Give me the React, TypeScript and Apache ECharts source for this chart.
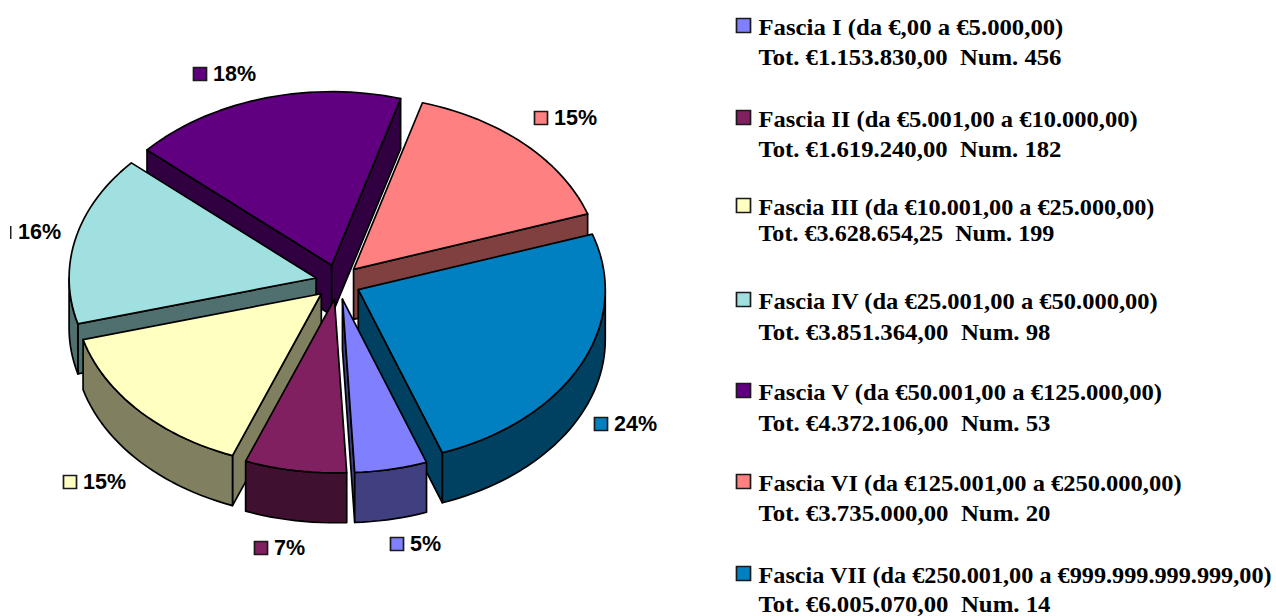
import React, { useEffect, useRef } from "react";
import * as echarts from "echarts";

const categories = ["Fascia I", "Fascia II", "Fascia III", "Fascia IV", "Fascia V", "Fascia VI", "Fascia VII"];
const totals = [1153830, 1619240, 3628654.25, 3851364, 4372106, 3735000, 6005070];
const percentLabels = ["5%", "7%", "15%", "16%", "18%", "15%", "24%"];
const legendLine1 = [
  "Fascia I (da €,00 a €5.000,00)",
  "Fascia II (da €5.001,00 a €10.000,00)",
  "Fascia III (da €10.001,00 a €25.000,00)",
  "Fascia IV (da €25.001,00 a €50.000,00)",
  "Fascia V (da €50.001,00 a €125.000,00)",
  "Fascia VI (da €125.001,00 a €250.000,00)",
  "Fascia VII (da €250.001,00 a €999.999.999.999,00)",
];
const legendLine2 = [
  "Tot. €1.153.830,00  Num. 456",
  "Tot. €1.619.240,00  Num. 182",
  "Tot. €3.628.654,25  Num. 199",
  "Tot. €3.851.364,00  Num. 98",
  "Tot. €4.372.106,00  Num. 53",
  "Tot. €3.735.000,00  Num. 20",
  "Tot. €6.005.070,00  Num. 14",
];
const topColors = ["#8080FF", "#802060", "#FFFFC0", "#A0E0E0", "#600080", "#FF8080", "#0080C0"];
const sideColors = ["#404080", "#401030", "#808060", "#507070", "#300040", "#804040", "#004060"];
const paintOrder = [4, 5, 3, 6, 2, 0, 1];

const legendY1 = [27, 119, 207, 301, 392, 483, 575];
const legendY2 = [57, 149, 233, 332, 423, 513, 604];
const legendWidth1 = [305, 379, 396, 400, 404.5, 423.5, 514];
const legendWidth2 = [303, 303, 296, 292, 292, 292, 292];
const legendFont = [24, 24, 22.5, 24, 24, 24, 24];
const labelX = [390, 254, 63, 10, 193, 534, 594];
const labelY = [544, 548, 482, 232, 74, 118, 424];

const CX = 338, CY = 282, A = 247, B = 173.5, DEPTH = 50, EX = 22.5, EY = 17.5;
const START = 160.1;
const sum = totals.reduce((s, v) => s + v, 0);
const rad = (d: number) => (d * Math.PI) / 180;

function renderSlice(_params: any, api: any) {
  const i = api.value(0) as number;
  const value = api.value(1) as number;
  const before = totals.slice(0, i).reduce((s, v) => s + v, 0);
  const a1 = START + (before / sum) * 360;
  const a2 = a1 + (value / sum) * 360;
  const mid = (a1 + a2) / 2;
  const ox = CX + Math.sin(rad(mid)) * EX;
  const oy = CY - Math.cos(rad(mid)) * EY;
  const pt = (deg: number) => [ox + Math.sin(rad(deg)) * A, oy - Math.cos(rad(deg)) * B];
  const sweep = (from: number, to: number) => {
    const pts: number[][] = [];
    const steps = Math.max(1, Math.ceil((to - from) / 2));
    for (let k = 0; k <= steps; k++) pts.push(pt(from + ((to - from) * k) / steps));
    return pts;
  };
  const arc = sweep(a1, a2);
  const down = (p: number[]) => [p[0], p[1] + DEPTH];
  const o = [ox, oy];
  const stroke = { stroke: "#000", lineWidth: 1.7, lineJoin: "round" };
  const wall = (points: number[][]) => ({
    type: "polygon",
    shape: { points },
    style: { fill: sideColors[i], ...stroke },
  });
  const children: any[] = [];
  // a cut face shows only when it looks towards the viewer
  if (Math.sin(rad(a1)) < 0) children.push(wall([o, pt(a1), down(pt(a1)), down(o)]));
  if (Math.sin(rad(a2)) > 0) children.push(wall([o, pt(a2), down(pt(a2)), down(o)]));
  // the rim shows only along the front half of the ellipse, 90 to 270 degrees
  for (const shift of [0, 360]) {
    const from = Math.max(a1, 90 + shift);
    const to = Math.min(a2, 270 + shift);
    if (to > from) {
      const rim = sweep(from, to);
      children.push(wall([...rim, ...rim.slice().reverse().map(down)]));
    }
  }
  children.push({ type: "polygon", shape: { points: [o, ...arc] }, style: { fill: topColors[i], ...stroke } });
  return { type: "group", children };
}

function keyBox(x: number, y: number, size: number, fill: string, lineWidth: number) {
  return { type: "rect", shape: { x, y, width: size, height: size }, style: { fill, stroke: "#1a1a1a", lineWidth } };
}

export default function App() {
  const ref = useRef<HTMLDivElement>(null);
  useEffect(() => {
    const chart = echarts.init(ref.current!, null, { renderer: "svg" });
    const ctx = document.createElement("canvas").getContext("2d")!;
    const elements: any[] = [];
    categories.forEach((_, i) => {
      elements.push(keyBox(736.5, legendY1[i] - 8.5, 14, topColors[i], 1.7));
      [legendLine1[i], legendLine2[i]].forEach((text, l) => {
        const fontSize = legendFont[i];
        ctx.font = `bold ${fontSize}px "Liberation Serif"`;
        const target = l === 0 ? legendWidth1[i] : legendWidth2[i];
        elements.push({
          type: "text",
          x: 758.5,
          y: l === 0 ? legendY1[i] : legendY2[i],
          scaleX: target / ctx.measureText(text).width,
          style: {
            text,
            fill: "#000",
            fontFamily: "Liberation Serif",
            fontWeight: "bold",
            fontSize,
            textVerticalAlign: "middle",
          },
        });
      });
      if (i === 3) {
        elements.push({ type: "rect", shape: { x: 10, y: labelY[i] - 6, width: 1.5, height: 13 }, style: { fill: "#222" } });
      } else {
        elements.push(keyBox(labelX[i] + 0.5, labelY[i] - 6.5, 13, topColors[i], 1.7));
      }
      elements.push({
        type: "text",
        x: i === 3 ? 18 : labelX[i] + 20,
        y: labelY[i],
        style: {
          text: percentLabels[i],
          fill: "#000",
          fontFamily: "Liberation Sans",
          fontWeight: "bold",
          fontSize: 21.5,
          textVerticalAlign: "middle",
        },
      });
    });
    chart.setOption({
      animation: false,
      backgroundColor: "#fff",
      graphic: { elements },
      series: [
        {
          type: "custom",
          coordinateSystem: "none",
          clip: false,
          renderItem: renderSlice,
          data: paintOrder.map((i) => [i, totals[i]]),
          silent: true,
        },
      ],
    });
    return () => chart.dispose();
  }, []);
  return <div ref={ref} style={{ position: "fixed", left: 0, top: 0, width: 1276, height: 616 }} />;
}
